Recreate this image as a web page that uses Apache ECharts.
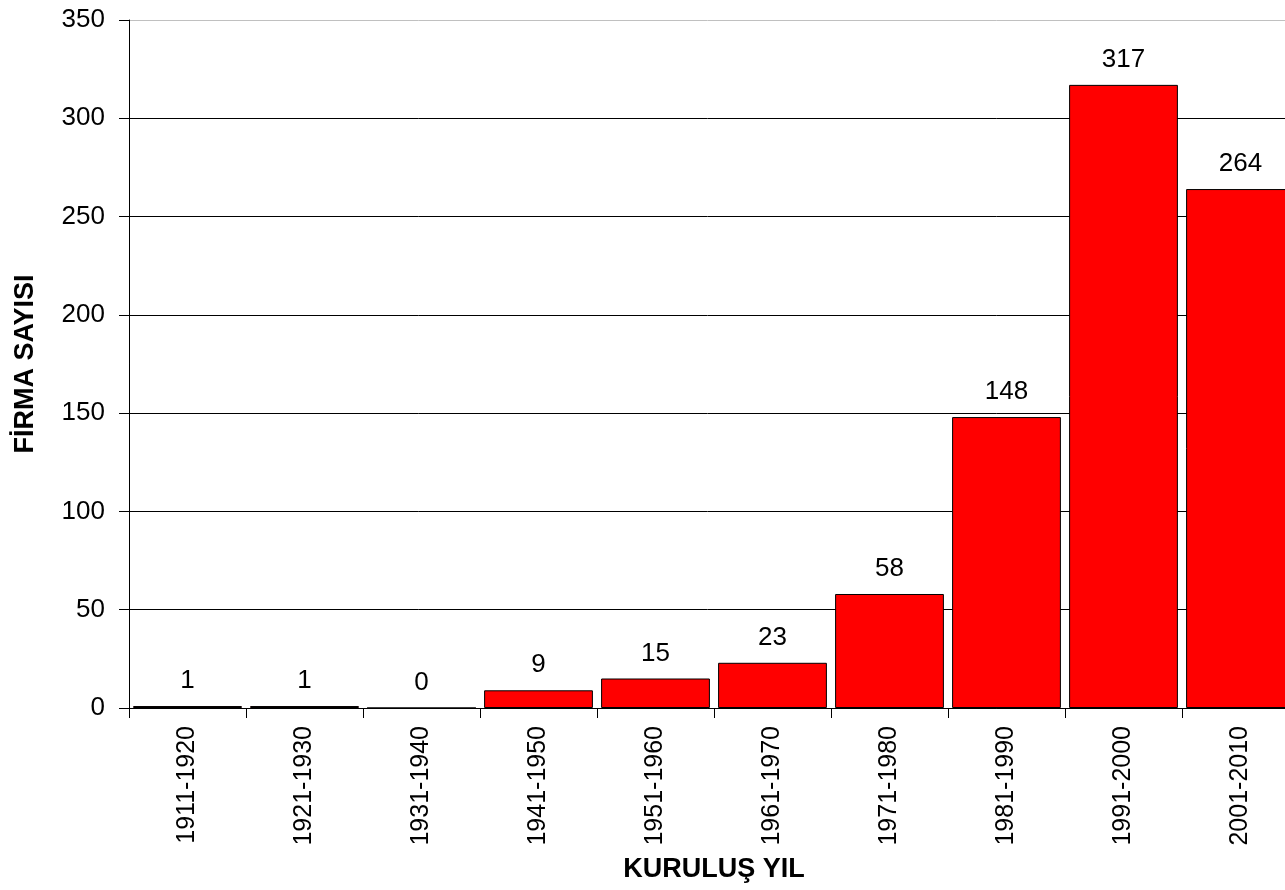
<!DOCTYPE html>
<html><head><meta charset="utf-8">
<script src="https://cdn.jsdelivr.net/npm/echarts@6/dist/echarts.min.js"></script>
<style>html,body{margin:0;padding:0;background:#fff}#c{width:1285px;height:890px}</style>
</head><body><div id="c"></div>
<script>
const categories = ['1911-1920','1921-1930','1931-1940','1941-1950','1951-1960','1961-1970','1971-1980','1981-1990','1991-2000','2001-2010'];
const values = [1, 1, 0, 9, 15, 23, 58, 148, 317, 264];
const yTicks = [0, 50, 100, 150, 200, 250, 300, 350];
const xTitle = 'KURULUŞ YIL';
const yTitle = 'FİRMA SAYISI';

const font = 'Liberation Sans, Arial, sans-serif';
const chart = echarts.init(document.getElementById('c'));
chart.setOption({
  animation: false,
  backgroundColor: '#fff',
  grid: { left: 129, top: 20, width: 1170, bottom: 182, containLabel: false, outerBoundsMode: 'none' },
  xAxis: {
    type: 'category', data: categories,
    name: xTitle, nameLocation: 'middle', nameGap: 148,
    nameTextStyle: { fontFamily: font, fontSize: 27, fontWeight: 'bold', color: '#000' },
    axisLine: { lineStyle: { color: '#000', width: 1 } },
    axisTick: { show: true, length: 10, lineStyle: { color: '#000' } },
    axisLabel: { rotate: 90, margin: 18, fontFamily: font, fontSize: 25, color: '#000', interval: 0 }
  },
  yAxis: {
    type: 'value', min: yTicks[0], max: yTicks[yTicks.length - 1], interval: 50,
    name: yTitle, nameLocation: 'middle', nameGap: 90, nameRotate: 90,
    nameTextStyle: { fontFamily: font, fontSize: 27, fontWeight: 'bold', color: '#000' },
    axisLine: { show: true, lineStyle: { color: '#000', width: 1 } },
    axisTick: { show: true, length: 10, lineStyle: { color: '#000' } },
    axisLabel: { margin: 24, fontFamily: font, fontSize: 26, color: '#000' },
    splitLine: { show: true, lineStyle: { color: ['#000','#000','#000','#000','#000','#000','#000','#c0c0c0'], width: 1 } }
  },
  series: [{
    type: 'bar', data: values, barCategoryGap: '7%',
    itemStyle: { color: '#ff0000', borderColor: '#000', borderWidth: 1 },
    label: { show: true, position: 'top', distance: 12, fontFamily: font, fontSize: 26, color: '#000' }
  }]
});
</script></body></html>
